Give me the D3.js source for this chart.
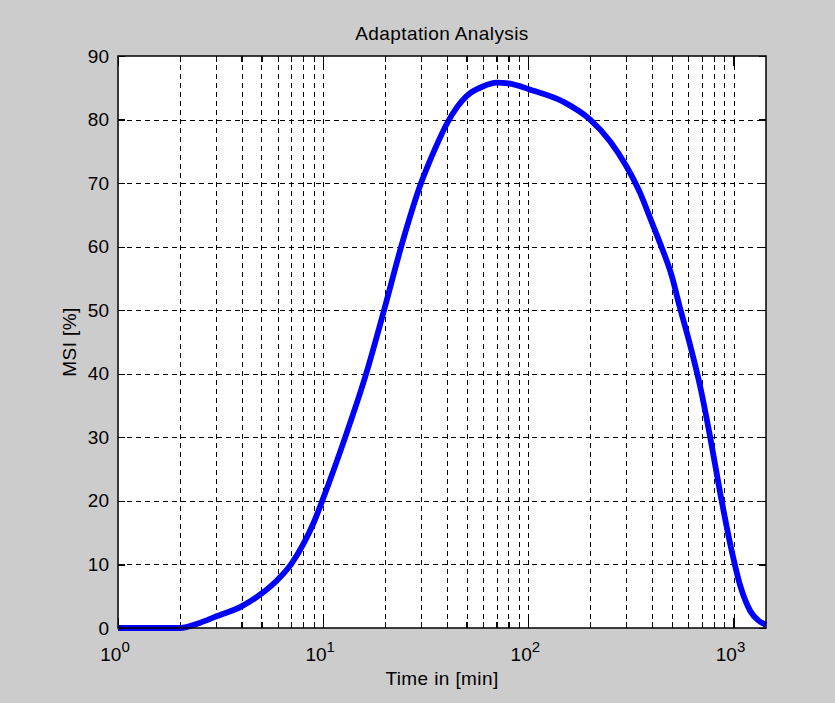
<!DOCTYPE html>
<html>
<head>
<meta charset="utf-8">
<script src="https://cdn.jsdelivr.net/npm/d3@7"></script>
<style>
  html, body { margin: 0; padding: 0; background: #cccccc; }
  svg { display: block; }
  text { font-family: "Liberation Sans", Arial, sans-serif; fill: #000; }
</style>
</head>
<body>
<svg id="chart" width="835" height="703"></svg>
<script>
// ---- data ----
const timeMin = [1, 1.5, 2, 2.5, 3, 4, 5, 6, 7, 8, 9, 10, 12.8, 16.2, 20, 24, 30, 35, 40, 45, 50, 60, 70, 80, 90, 100, 150, 200, 250, 300, 350, 400, 450, 500, 545, 617, 690, 772, 864, 967, 1082, 1211, 1320, 1440];
const msiPct  = [0, 0, 0, 0.8, 1.8, 3.4, 5.4, 7.6, 10.1, 13.2, 16.6, 20.4, 30, 40, 50.5, 60, 70, 75.3, 79.3, 82.0, 83.7, 85.2, 85.8, 85.7, 85.3, 84.8, 82.7, 80.0, 76.6, 72.7, 68.5, 63.8, 59.6, 55.4, 50.7, 44.3, 37.8, 29.8, 21, 13, 6.5, 2.6, 1.2, 0.5];
const xMajorTicks = [1, 10, 100, 1000];
const xMajorExp = ["0", "1", "2", "3"];
const xMinorTicks = [2,3,4,5,6,7,8,9,20,30,40,50,60,70,80,90,200,300,400,500,600,700,800,900];
const yTicks = [0, 10, 20, 30, 40, 50, 60, 70, 80, 90];
const titleText = "Adaptation Analysis";
const xLabelText = "Time in [min]";
const yLabelText = "MSI [%]";

// ---- layout ----
const L = 118, R = 766, T = 56, B = 628;
const svg = d3.select("#chart");

const x = d3.scaleLog().domain([1, 1440]).range([L, R]);
const y = d3.scaleLinear().domain([0, 90]).range([B, T]);

// plot background
svg.append("rect").attr("x", L).attr("y", T).attr("width", R - L).attr("height", B - T).attr("fill", "#fff");

// grid
const grid = svg.append("g").attr("stroke", "#000").attr("stroke-width", 1).attr("stroke-dasharray", "5,4").attr("shape-rendering", "crispEdges");
grid.selectAll("line.v").data(xMajorTicks.concat(xMinorTicks).filter(d => d > 1)).join("line")
  .attr("x1", d => Math.round(x(d)) + 0.5).attr("x2", d => Math.round(x(d)) + 0.5)
  .attr("y1", B).attr("y2", T);
grid.selectAll("line.h").data(yTicks.filter(d => d > 0 && d < 90)).join("line")
  .attr("class", "h")
  .attr("y1", d => Math.round(y(d)) + 0.5).attr("y2", d => Math.round(y(d)) + 0.5)
  .attr("x1", L).attr("x2", R);

// curve
const line = d3.line().x((d, i) => x(timeMin[i])).y(d => y(d)).curve(d3.curveMonotoneX);
svg.append("path").datum(msiPct).attr("d", line)
  .attr("fill", "none").attr("stroke", "#0000ff").attr("stroke-width", 5.8)
  .attr("stroke-linejoin", "round").attr("stroke-linecap", "butt");

// axes (inward ticks)
function styleAxis(g) {
  g.select(".domain").remove();
  g.selectAll(".tick line").attr("stroke", "#000").attr("stroke-width", 1.2).attr("shape-rendering", "crispEdges");
}
svg.append("g").attr("transform", `translate(0,${B})`)
  .call(d3.axisBottom(x).tickValues(xMajorTicks).tickSizeInner(-10).tickSizeOuter(0).tickFormat(""))
  .call(styleAxis);
svg.append("g").attr("transform", `translate(0,${B})`)
  .call(d3.axisBottom(x).tickValues(xMinorTicks).tickSizeInner(-6).tickSizeOuter(0).tickFormat(""))
  .call(styleAxis);
svg.append("g").attr("transform", `translate(0,${T})`)
  .call(d3.axisTop(x).tickValues(xMajorTicks).tickSizeInner(-10).tickSizeOuter(0).tickFormat(""))
  .call(styleAxis);
svg.append("g").attr("transform", `translate(0,${T})`)
  .call(d3.axisTop(x).tickValues(xMinorTicks).tickSizeInner(-6).tickSizeOuter(0).tickFormat(""))
  .call(styleAxis);

const yAx = svg.append("g").attr("transform", `translate(${L},0)`)
  .call(d3.axisLeft(y).tickValues(yTicks).tickSizeInner(-7).tickSizeOuter(0).tickPadding(9).tickFormat(d3.format("d")))
  .call(styleAxis);
yAx.selectAll(".tick text").attr("font-size", 19).attr("font-family", "Liberation Sans, Arial, sans-serif").attr("fill", "#000");
svg.append("g").attr("transform", `translate(${R},0)`)
  .call(d3.axisRight(y).tickValues(yTicks).tickSizeInner(-7).tickSizeOuter(0).tickFormat(""))
  .call(styleAxis);

// x tick labels 10^n
const xl = svg.append("g");
xMajorTicks.forEach((t, i) => {
  const tx = xl.append("text").attr("x", x(t) - 3).attr("y", 661).attr("text-anchor", "middle").attr("font-size", 19);
  tx.append("tspan").text("10");
  tx.append("tspan").attr("dy", -9).attr("font-size", 15).text(xMajorExp[i]);
});

// frame
svg.append("rect").attr("x", L).attr("y", T).attr("width", R - L).attr("height", B - T)
  .attr("fill", "none").attr("stroke", "#000").attr("stroke-width", 1.5);

// titles
svg.append("text").attr("x", (L + R) / 2).attr("y", 40).attr("text-anchor", "middle")
  .attr("font-size", 19).attr("letter-spacing", 0.4).text(titleText);
svg.append("text").attr("x", (L + R) / 2).attr("y", 685).attr("text-anchor", "middle")
  .attr("font-size", 19).attr("letter-spacing", 0.4).text(xLabelText);
svg.append("text").attr("transform", `translate(76,${(T + B) / 2}) rotate(-90)`).attr("text-anchor", "middle")
  .attr("font-size", 19).attr("letter-spacing", 0.4).text(yLabelText);
</script>
</body>
</html>
